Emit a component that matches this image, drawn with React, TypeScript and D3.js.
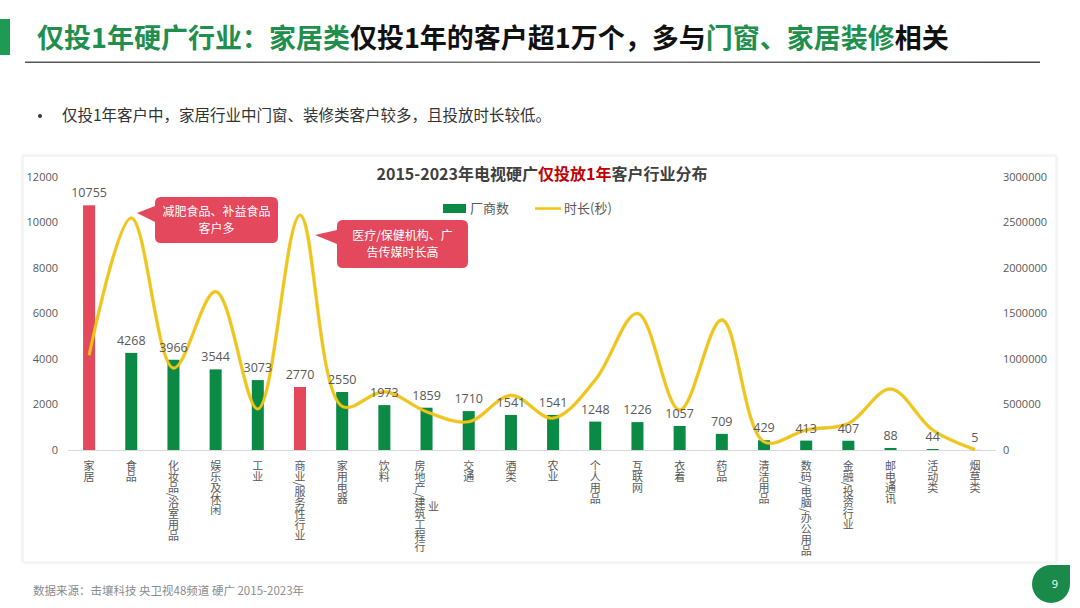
import React from "react";
import * as d3 from "d3";

const categories = [
  "家居", "食品", "化妆品/浴室用品", "娱乐及休闲", "工业", "商业/服务性行业", "家用电器", "饮料",
  "房地产/建筑工程行业", "交通", "酒类", "农业", "个人用品", "互联网", "衣着", "药品", "清洁用品",
  "数码/电脑/办公用品", "金融/投资行业", "邮电通讯", "活动类", "烟草类",
];
const vendorCounts = [10755, 4268, 3966, 3544, 3073, 2770, 2550, 1973, 1859, 1710, 1541, 1541, 1248, 1226, 1057, 709, 429, 413, 407, 88, 44, 5];
const durationSec = [1040000, 2550000, 900000, 1740000, 450000, 2580000, 480000, 640000, 420000, 310000, 600000, 350000, 770000, 1500000, 440000, 1430000, 90000, 220000, 290000, 670000, 220000, 5000];
const highlighted = ["家居", "商业/服务性行业"];
const leftTicks = [0, 2000, 4000, 6000, 8000, 10000, 12000];
const rightTicks = [0, 500000, 1000000, 1500000, 2000000, 2500000, 3000000];
const wrappedLabels: Record<string, string[]> = { "房地产/建筑工程行业": ["房地产/建筑工程行", "业"] };

const FONT = "'Open Sans', 'Noto Sans CJK SC', sans-serif";
const CJK = "'Noto Sans CJK SC', 'Open Sans', sans-serif";
const GREEN = "#0a8a45";
const RED = "#e4485c";
const YELLOW = "#f1c514";
const TXT = "#595959";

export default function App() {
  const x0 = 68, x1 = 996, yTop = 177, yBase = 450;
  const x = d3.scaleBand<string>().domain(categories).range([x0, x1]).paddingInner(0.715).paddingOuter(0.3575);
  const yL = d3.scaleLinear().domain([0, 12000]).range([yBase, yTop]);
  const yR = d3.scaleLinear().domain([0, 3000000]).range([yBase, yTop]);
  const cx = (c: string) => (x(c) as number) + x.bandwidth() / 2;
  const line = d3.line<number>().x((_, i) => cx(categories[i])).y((d) => yR(d)).curve(d3.curveCatmullRom.alpha(0.5));

  const vText = (s: string, xp: number, yp: number, key: string) => (
    <text key={key} x={xp} y={yp} fontSize={11} fill={TXT} fontFamily={CJK}
      style={{ writingMode: "vertical-rl" as any }} textAnchor="start">{s}</text>
  );

  return (
    <svg width={1080} height={608} style={{ position: "absolute", left: 0, top: 0, background: "#fff" }}>
      {/* Header */}
      <rect x={0} y={19} width={10} height={36} fill="#1f9a52" />
      <text x={37} y={48} fontSize={27} fontWeight={700} fontFamily={CJK}>
        <tspan fill="#1f8f4e">仅投1年硬广行业：家居类</tspan>
        <tspan fill="#111">仅投1年的客户超1万个，多与</tspan>
        <tspan fill="#1f8f4e">门窗、家居装修</tspan>
        <tspan fill="#111">相关</tspan>
      </text>
      <defs>
        <linearGradient id="ul" x1="0" x2="1" y1="0" y2="0">
          <stop offset="0" stopColor="#555" />
          <stop offset="0.5" stopColor="#777" />
          <stop offset="1" stopColor="#444" />
        </linearGradient>
        <filter id="sh" x="-2%" y="-2%" width="104%" height="104%">
          <feDropShadow dx="0" dy="0" stdDeviation="1.5" floodColor="#000" floodOpacity="0.12" />
        </filter>
      </defs>
      <rect x={25} y={61.5} width={1015} height={1.5} fill="url(#ul)" />
      <circle cx={40} cy={116} r={2} fill="#333" />
      <text x={62} y={121} fontSize={15.5} fill="#333" fontFamily={CJK}>仅投1年客户中，家居行业中门窗、装修类客户较多，且投放时长较低。</text>

      {/* Chart box */}
      <rect x={23} y={156} width={1033} height={406} fill="#fff" stroke="#eeeeee" filter="url(#sh)" />
      <text x={542} y={180} textAnchor="middle" fontSize={16} fontWeight={700} fill="#404040" fontFamily={CJK}>
        2015-2023年电视硬广<tspan fill="#c00000">仅投放1年</tspan>客户行业分布
      </text>
      {/* Legend */}
      <rect x={443} y={204} width={23} height={9} fill={GREEN} />
      <text x={470} y={213} fontSize={13} fill={TXT} fontFamily={CJK}>厂商数</text>
      <line x1={535} x2={561} y1={208.5} y2={208.5} stroke={YELLOW} strokeWidth={2.5} />
      <text x={564} y={213} fontSize={13} fill={TXT} fontFamily={CJK}>时长(秒)</text>

      {/* Axes labels */}
      {leftTicks.map((t) => (
        <text key={"l" + t} x={58} y={yL(t)} dy="0.35em" textAnchor="end" fontSize={11} fill={TXT} fontFamily={FONT}>{t}</text>
      ))}
      {rightTicks.map((t) => (
        <text key={"r" + t} x={1003} y={yR(t)} dy="0.35em" textAnchor="start" fontSize={11} fill={TXT} fontFamily={FONT}>{t}</text>
      ))}
      <line x1={x0} x2={x1} y1={yBase + 0.5} y2={yBase + 0.5} stroke="#d9d9d9" />

      {/* Bars */}
      {categories.map((c, i) => (
        <rect key={"b" + c} x={x(c)} y={yL(vendorCounts[i])} width={x.bandwidth()} height={yBase - yL(vendorCounts[i])}
          fill={highlighted.includes(c) ? RED : GREEN} />
      ))}
      {/* Line */}
      <path d={line(durationSec) || ""} fill="none" stroke="#d9b10c" strokeWidth={3.6} strokeOpacity={0.5} />
      <path d={line(durationSec) || ""} fill="none" stroke={YELLOW} strokeWidth={2.6} />
      {/* Data labels */}
      {categories.map((c, i) => (
        <text key={"v" + c} x={cx(c)} y={yL(vendorCounts[i]) - 8} textAnchor="middle" fontSize={12.5} fill={TXT} fontFamily={FONT}>{vendorCounts[i]}</text>
      ))}
      {/* X labels */}
      {categories.map((c) => {
        const cols = wrappedLabels[c];
        if (!cols) return vText(c, cx(c), 460, "x" + c);
        return (
          <g key={"x" + c}>
            {vText(cols[0], cx(c) - 6.5, 460, "xa" + c)}
            {vText(cols[1], cx(c) + 7, 501, "xb" + c)}
          </g>
        );
      })}

      {/* Callouts */}
      <path d="M161,197 H272 Q278,197 278,203 V237 Q278,243 272,243 H161 Q155,243 155,237 V222 L137,213 L155,206 V203 Q155,197 161,197 Z" fill={RED} />
      <text x={216.5} y={216} textAnchor="middle" fontSize={12} fill="#fff" fontFamily={CJK}>减肥食品、补益食品</text>
      <text x={216.5} y={233} textAnchor="middle" fontSize={12} fill="#fff" fontFamily={CJK}>客户多</text>
      <path d="M343,220 H462 Q468,220 468,226 V262 Q468,268 462,268 H343 Q337,268 337,262 V244 L315,235 L337,230 V226 Q337,220 343,220 Z" fill={RED} />
      <text x={402.5} y={240} textAnchor="middle" fontSize={12} fill="#fff" fontFamily={CJK}>医疗/保健机构、广</text>
      <text x={402.5} y={257} textAnchor="middle" fontSize={12} fill="#fff" fontFamily={CJK}>告传媒时长高</text>

      {/* Footer */}
      <text x={33} y={595} fontSize={11.5} fill="#8c8c8c" fontFamily={CJK}>数据来源：击壤科技 央卫视48频道 硬广 2015-2023年</text>
      <path d="M1032,584 A19,19 0 0 1 1051,565 H1070 V584 A19,19 0 0 1 1051,603 A19,19 0 0 1 1032,584 Z" fill="#1a8a4a" />
      <text x={1055} y={588} textAnchor="middle" fontSize={11} fill="#fff" fontFamily={FONT}>9</text>
    </svg>
  );
}
